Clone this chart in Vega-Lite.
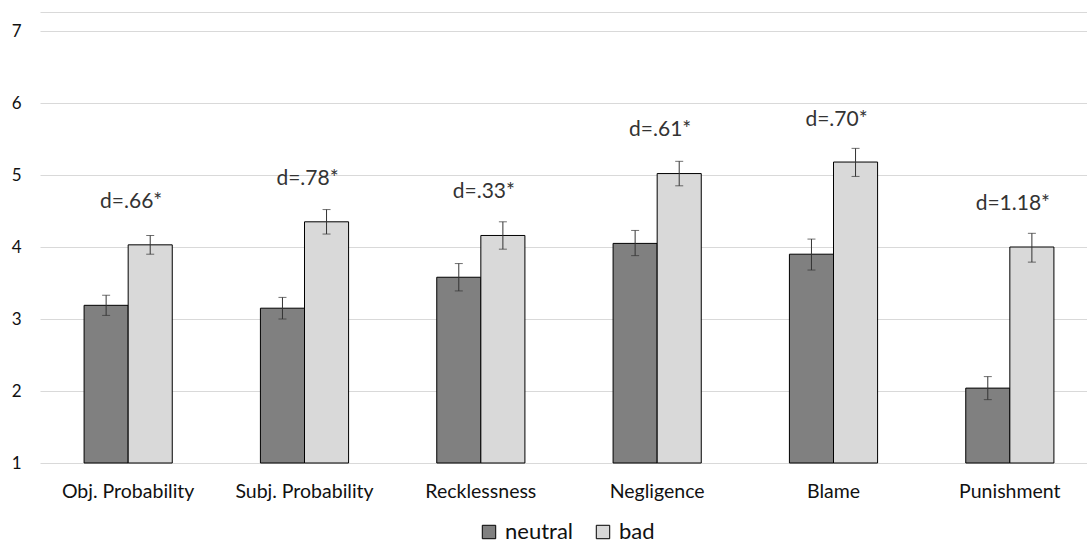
{
  "$schema": "https://vega.github.io/schema/vega-lite/v6.json",
  "autosize": "none",
  "padding": {"left": 40, "top": 31, "right": 0, "bottom": 80},
  "width": 1058,
  "height": 432,
  "background": "white",
  "config": {
    "font": "Lato",
    "view": {"stroke": null}
  },
  "resolve": {"axis": {"x": "independent"}},
  "datasets": {
    "bars": [
      {"cat": "Obj. Probability", "cond": "neutral", "mean": 3.19, "lo": 3.05, "hi": 3.33},
      {"cat": "Obj. Probability", "cond": "bad", "mean": 4.03, "lo": 3.90, "hi": 4.16},
      {"cat": "Subj. Probability", "cond": "neutral", "mean": 3.15, "lo": 3.00, "hi": 3.30},
      {"cat": "Subj. Probability", "cond": "bad", "mean": 4.35, "lo": 4.18, "hi": 4.52},
      {"cat": "Recklessness", "cond": "neutral", "mean": 3.58, "lo": 3.39, "hi": 3.77},
      {"cat": "Recklessness", "cond": "bad", "mean": 4.16, "lo": 3.97, "hi": 4.35},
      {"cat": "Negligence", "cond": "neutral", "mean": 4.05, "lo": 3.88, "hi": 4.23},
      {"cat": "Negligence", "cond": "bad", "mean": 5.02, "lo": 4.85, "hi": 5.19},
      {"cat": "Blame", "cond": "neutral", "mean": 3.90, "lo": 3.68, "hi": 4.11},
      {"cat": "Blame", "cond": "bad", "mean": 5.18, "lo": 4.98, "hi": 5.37},
      {"cat": "Punishment", "cond": "neutral", "mean": 2.04, "lo": 1.88, "hi": 2.20},
      {"cat": "Punishment", "cond": "bad", "mean": 4.00, "lo": 3.79, "hi": 4.19}
    ],
    "labels": [
      {"cat": "Obj. Probability", "label": "d=.66*", "ly": 4.63},
      {"cat": "Subj. Probability", "label": "d=.78*", "ly": 4.95},
      {"cat": "Recklessness", "label": "d=.33*", "ly": 4.76},
      {"cat": "Negligence", "label": "d=.61*", "ly": 5.62},
      {"cat": "Blame", "label": "d=.70*", "ly": 5.76},
      {"cat": "Punishment", "label": "d=1.18*", "ly": 4.60}
    ]
  },
  "layer": [
    {
      "data": {"name": "bars"},
      "mark": {"type": "bar", "stroke": "black", "strokeWidth": 1},
      "encoding": {
        "x": {
          "field": "cat", "type": "nominal", "sort": null,
          "scale": {"paddingInner": 0.5, "paddingOuter": 0.25},
          "axis": {"title": null, "labelAngle": 0, "ticks": false, "domain": false, "labelPadding": 19, "labelFontSize": 19.5, "labelColor": "#111111", "labelFont": "Lato"}
        },
        "xOffset": {"field": "cond", "type": "nominal", "sort": ["neutral", "bad"], "scale": {"paddingInner": 0, "paddingOuter": 0}},
        "y": {
          "field": "mean", "type": "quantitative",
          "scale": {"domain": [1, 7], "nice": false, "zero": false},
          "axis": {"title": null, "values": [1, 2, 3, 4, 5, 6, 7], "format": "d", "ticks": false, "domain": false, "labelPadding": 19, "labelFontSize": 17, "labelColor": "#111111", "gridColor": "#d9d9d9", "gridWidth": 1}
        },
        "y2": {"datum": 1},
        "fill": {
          "field": "cond", "type": "nominal", "sort": ["neutral", "bad"],
          "scale": {"domain": ["neutral", "bad"], "range": ["#808080", "#d9d9d9"]},
          "legend": {
            "title": null, "orient": "none", "direction": "horizontal",
            "legendX": 438, "legendY": 490,
            "symbolType": "square", "symbolSize": 180, "symbolStrokeColor": "black", "symbolStrokeWidth": 1,
            "labelFontSize": 22, "labelColor": "#111111", "columnPadding": 18, "labelOffset": 5
          }
        }
      }
    },
    {
      "data": {"name": "bars"},
      "mark": {"type": "rule", "color": "#333333", "strokeWidth": 1},
      "encoding": {
        "x": {"field": "cat", "type": "nominal", "sort": null,
          "axis": {"orient": "top", "title": null, "labels": false, "ticks": false, "grid": false, "domain": true, "domainColor": "#d9d9d9", "domainWidth": 1, "offset": 19}},
        "xOffset": {"field": "cond", "type": "nominal", "sort": ["neutral", "bad"]},
        "y": {"field": "lo", "type": "quantitative"},
        "y2": {"field": "hi"}
      }
    },
    {
      "data": {"name": "bars"},
      "mark": {"type": "tick", "color": "#333333", "thickness": 1, "size": 8},
      "encoding": {
        "x": {"field": "cat", "type": "nominal", "sort": null, "axis": null},
        "xOffset": {"field": "cond", "type": "nominal", "sort": ["neutral", "bad"]},
        "y": {"field": "lo", "type": "quantitative"}
      }
    },
    {
      "data": {"name": "bars"},
      "mark": {"type": "tick", "color": "#333333", "thickness": 1, "size": 8},
      "encoding": {
        "x": {"field": "cat", "type": "nominal", "sort": null, "axis": null},
        "xOffset": {"field": "cond", "type": "nominal", "sort": ["neutral", "bad"]},
        "y": {"field": "hi", "type": "quantitative"}
      }
    },
    {
      "data": {"name": "labels"},
      "mark": {"type": "text", "fontSize": 21, "color": "#333333", "align": "center", "baseline": "middle", "dx": 3},
      "encoding": {
        "x": {"field": "cat", "type": "nominal", "sort": null, "axis": null},
        "y": {"field": "ly", "type": "quantitative"},
        "text": {"field": "label"}
      }
    }
  ]
}
